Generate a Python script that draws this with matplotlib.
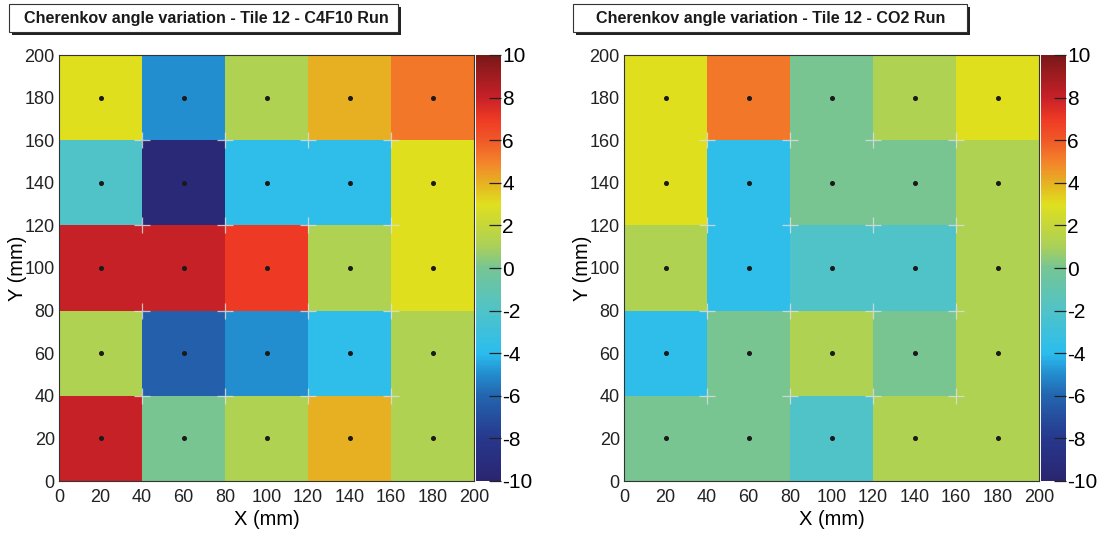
import numpy as np
import matplotlib
matplotlib.use('Agg')
import matplotlib.pyplot as plt
from matplotlib.colors import LinearSegmentedColormap
from matplotlib.patches import Rectangle

plt.rcParams['font.family'] = ['Liberation Sans', 'DejaVu Sans']
plt.rcParams['axes.unicode_minus'] = False

# bin edges (mm)
x_edges = [0, 40, 80, 120, 160, 200]
y_edges = [0, 40, 80, 120, 160, 200]

# Cherenkov angle variation per tile, rows from y=20 (bottom) to y=180 (top)
c4f10_vals = [
    [8.0, 0.0, 1.2, 4.0, 1.2],
    [1.2, -6.3, -5.0, -3.8, 1.2],
    [8.0, 8.0, 7.0, 1.2, 3.0],
    [-2.0, -9.5, -3.8, -3.8, 3.0],
    [3.0, -5.0, 1.2, 4.0, 5.3],
]
co2_vals = [
    [0.0, 0.0, -2.0, 1.2, 1.2],
    [-3.8, 0.0, 1.2, 0.0, 1.2],
    [1.2, -3.8, -2.0, -2.0, 1.2],
    [3.0, -3.8, 0.0, 0.0, 1.2],
    [3.0, 5.3, 0.0, 1.2, 3.0],
]
titles = ['Cherenkov angle variation - Tile 12 - C4F10 Run',
          'Cherenkov angle variation - Tile 12 - CO2 Run']
ticks = [0, 20, 40, 60, 80, 100, 120, 140, 160, 180, 200]
cbar_ticks = [-10, -8, -6, -4, -2, 0, 2, 4, 6, 8, 10]

# ROOT-like rainbow palette sampled from the colour bar
stops = [(-10, '#2a2570'), (-8, '#27388d'), (-6, '#2366b0'), (-5, '#238dce'),
         (-4, '#2bbdee'), (-2, '#50c3c8'), (0, '#76c594'), (1, '#a9d05a'),
         (2, '#c6d73a'), (3, '#dfe01e'), (4, '#e6b122'), (5, '#f3832a'),
         (6, '#f05a28'), (7, '#ef3a24'), (8, '#c92128'), (10, '#7a1818')]
cmap = LinearSegmentedColormap.from_list(
    'rootpal', [((v + 10) / 20, c) for v, c in stops])

W, H = 1107, 534
fig = plt.figure(figsize=(W / 100, H / 100), dpi=100)


def px(x0, y0, x1, y1):
    return [x0 / W, 1 - y1 / H, (x1 - x0) / W, (y1 - y0) / H]


panels = [
    (c4f10_vals, titles[0], px(59, 55, 474, 481), px(476, 55, 501, 481), (9, 398), 206),
    (co2_vals, titles[1], px(624, 55, 1039, 481), px(1041, 55, 1066, 481), (573, 967), 771),
]

xc = [(a + b) / 2 for a, b in zip(x_edges[:-1], x_edges[1:])]
yc = [(a + b) / 2 for a, b in zip(y_edges[:-1], y_edges[1:])]

for vals, title, rect, crect, (bx0, bx1), tx in panels:
    ax = fig.add_axes(rect)
    mesh = ax.pcolormesh(x_edges, y_edges, np.array(vals), cmap=cmap,
                         vmin=-10, vmax=10, shading='flat')
    # grid corner crosses
    gx, gy = np.meshgrid(x_edges[1:-1], y_edges[1:-1])
    ax.plot(gx.ravel(), gy.ravel(), '+', color='#e0e0e0', ms=11, mew=0.9,
            alpha=0.8, zorder=3)
    # tile centre dots
    cx, cy = np.meshgrid(xc, yc)
    ax.plot(cx.ravel(), cy.ravel(), 'o', color='#1a1a1a', ms=2.6, zorder=4)

    ax.set_xlim(0, 200)
    ax.set_ylim(0, 200)
    ax.set_xticks(ticks)
    ax.set_yticks(ticks)
    ax.tick_params(direction='in', length=0, labelsize=13, pad=3,
                   colors='#222222')
    ax.tick_params(axis='x', pad=6)
    for s in ax.spines.values():
        s.set_color('#333333')
        s.set_linewidth(0.8)
    ax.set_xlabel('X (mm)', fontsize=14.5)
    ax.xaxis.set_label_coords(0.5, -0.068)
    ax.set_ylabel('Y (mm)', fontsize=14.5)
    ax.yaxis.set_label_coords(-0.077, 0.5)

    cax = fig.add_axes(crect)
    cb = fig.colorbar(mesh, cax=cax, ticks=cbar_ticks)
    cb.outline.set_linewidth(0)
    cax.tick_params(direction='in', length=9, width=0.9, color='#222222',
                    labelsize=15, pad=1)

    # title box with shadow
    shadow = Rectangle(((bx0 + 3) / W, 1 - 35 / H), (bx1 - bx0) / W, 28 / H,
                       transform=fig.transFigure, facecolor='#222222',
                       edgecolor='none', zorder=1)
    box = Rectangle((bx0 / W, 1 - 32 / H), (bx1 - bx0) / W, 28 / H,
                    transform=fig.transFigure, facecolor='white',
                    edgecolor='#333333', linewidth=0.8, zorder=2)
    fig.patches.extend([shadow, box])
    fig.text(tx / W, 1 - 18 / H, title, ha='center',
             va='center', fontsize=11.6, fontweight='bold', color='#1a1a1a',
             zorder=3)

fig.savefig('out.png', dpi=100)
